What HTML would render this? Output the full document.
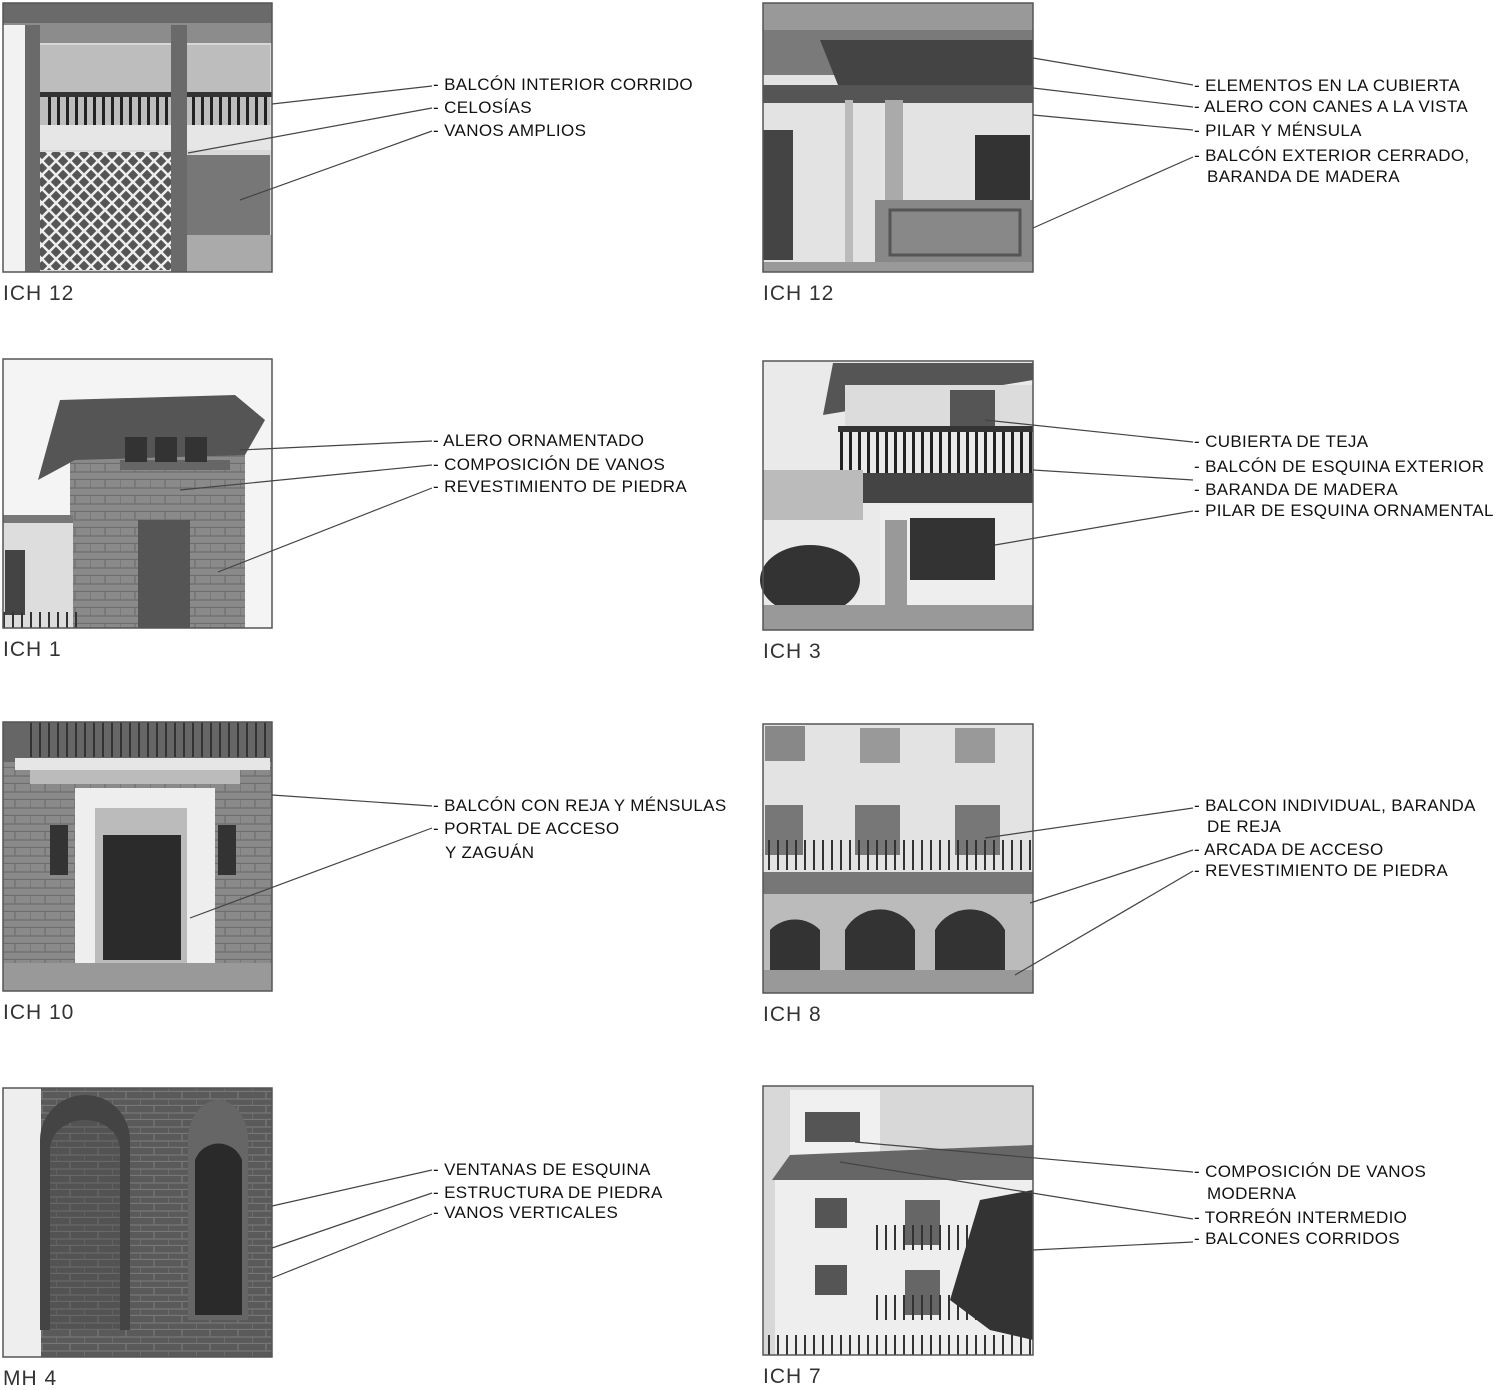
<!DOCTYPE html>
<html><head><meta charset="utf-8"><style>
html,body{margin:0;padding:0;background:#fff;}
svg{display:block}
text{font-family:"Liberation Sans",sans-serif;fill:#222;}
.l{font-size:17px;letter-spacing:0.35px;fill:#111}
.c{font-size:21px;fill:#333;letter-spacing:1px}
.ln{stroke:#444;stroke-width:1.2;fill:none}
.fr{fill:none;stroke:#555;stroke-width:1.5}
</style></head><body>
<svg width="1500" height="1390" viewBox="0 0 1500 1390" xmlns="http://www.w3.org/2000/svg">
<defs>
<pattern id="lat" width="14" height="14" patternUnits="userSpaceOnUse"><path d="M0 7L7 0L14 7L7 14Z" fill="none" stroke="#eee" stroke-width="2.5"/></pattern>
<pattern id="stone" width="30" height="16" patternUnits="userSpaceOnUse"><rect width="30" height="16" fill="#8a8a8a"/><path d="M0 15.5H30M15 0V8M0 8H30M0 0V8" stroke="#6e6e6e" stroke-width="1.2"/></pattern>
<pattern id="brick" width="28" height="14" patternUnits="userSpaceOnUse"><rect width="28" height="14" fill="#5a5a5a"/><path d="M0 13.5H28M14 0V7M0 7H28M0 7V14" stroke="#777" stroke-width="1.2"/></pattern>
<pattern id="bal" width="9" height="20" patternUnits="userSpaceOnUse"><rect width="9" height="20" fill="none"/><rect x="3" y="0" width="3" height="20" fill="#222"/></pattern>
<pattern id="bal2" width="9" height="20" patternUnits="userSpaceOnUse"><rect x="3" y="0" width="2" height="20" fill="#333"/></pattern>
</defs>

<g>
<rect x="3" y="3" width="269" height="269" fill="#d8d8d8"/>
<rect x="3" y="3" width="269" height="20" fill="#6a6a6a"/>
<rect x="3" y="23" width="269" height="20" fill="#8c8c8c"/>
<rect x="40" y="45" width="230" height="80" fill="#bdbdbd"/>
<rect x="45" y="95" width="225" height="30" fill="url(#bal)"/>
<rect x="40" y="92" width="232" height="5" fill="#333"/>
<rect x="40" y="125" width="232" height="25" fill="#e6e6e6"/>
<rect x="38" y="152" width="135" height="118" fill="#555"/>
<rect x="38" y="152" width="135" height="118" fill="url(#lat)"/>
<rect x="180" y="155" width="90" height="80" fill="#777"/>
<rect x="180" y="235" width="92" height="37" fill="#aaa"/>
<rect x="25" y="25" width="15" height="247" fill="#6a6a6a"/>
<rect x="171" y="25" width="16" height="247" fill="#6a6a6a"/>
<rect x="3" y="25" width="22" height="247" fill="#f2f2f2"/>
<rect x="3" y="3" width="269" height="269" class="fr"/>
</g>
<text class="c" x="3" y="300">ICH  12</text>
<line class="ln" x1="272" y1="104" x2="432" y2="86"/>
<line class="ln" x1="188" y1="153" x2="432" y2="108"/>
<line class="ln" x1="240" y1="200" x2="432" y2="131"/>
<text class="l" x="433" y="90">- BALCÓN INTERIOR CORRIDO</text>
<text class="l" x="433" y="113">- CELOSÍAS</text>
<text class="l" x="433" y="136">- VANOS AMPLIOS</text>

<g>
<rect x="763" y="3" width="270" height="269" fill="#e3e3e3"/>
<rect x="763" y="3" width="270" height="40" fill="#999"/>
<polygon points="763,30 1033,30 1033,75 763,75" fill="#7a7a7a"/>
<polygon points="820,40 1033,40 1033,90 840,90" fill="#444"/>
<rect x="763" y="85" width="270" height="18" fill="#555"/>
<rect x="885" y="100" width="18" height="170" fill="#aaa"/>
<rect x="845" y="100" width="8" height="172" fill="#bbb"/>
<rect x="975" y="135" width="55" height="70" fill="#333"/>
<rect x="875" y="200" width="158" height="62" fill="#888"/>
<rect x="890" y="210" width="130" height="45" fill="none" stroke="#555" stroke-width="3"/>
<rect x="763" y="130" width="30" height="130" fill="#444"/>
<rect x="763" y="262" width="270" height="10" fill="#999"/>
<rect x="763" y="3" width="270" height="269" class="fr"/>
</g>
<text class="c" x="763" y="300">ICH  12</text>
<line class="ln" x1="1033" y1="58" x2="1193" y2="85"/>
<line class="ln" x1="1033" y1="88" x2="1193" y2="107"/>
<line class="ln" x1="1033" y1="115" x2="1193" y2="130"/>
<line class="ln" x1="1033" y1="228" x2="1193" y2="157"/>
<text class="l" x="1194" y="91">- ELEMENTOS EN LA CUBIERTA</text>
<text class="l" x="1194" y="112">- ALERO CON CANES A LA VISTA</text>
<text class="l" x="1194" y="136">- PILAR Y MÉNSULA</text>
<text class="l" x="1194" y="161">- BALCÓN EXTERIOR CERRADO,</text>
<text class="l" x="1207" y="182">BARANDA DE MADERA</text>

<g>
<rect x="3" y="359" width="269" height="269" fill="#f4f4f4"/>
<rect x="70" y="415" width="175" height="213" fill="url(#stone)"/>
<polygon points="38,480 60,400 235,395 265,420 245,455 75,460" fill="#555"/>
<rect x="120" y="460" width="110" height="10" fill="#666"/>
<rect x="125" y="437" width="22" height="25" fill="#333"/>
<rect x="155" y="437" width="22" height="25" fill="#333"/>
<rect x="185" y="437" width="22" height="25" fill="#333"/>
<rect x="138" y="520" width="52" height="108" fill="#555"/>
<rect x="3" y="515" width="70" height="113" fill="#ddd"/>
<rect x="3" y="515" width="70" height="8" fill="#777"/>
<rect x="5" y="550" width="20" height="65" fill="#444"/>
<rect x="3" y="612" width="75" height="16" fill="url(#bal2)"/>
<rect x="3" y="359" width="269" height="269" class="fr"/>
</g>
<text class="c" x="3" y="656">ICH  1</text>
<line class="ln" x1="240" y1="450" x2="432" y2="441"/>
<line class="ln" x1="180" y1="490" x2="432" y2="465"/>
<line class="ln" x1="218" y1="572" x2="432" y2="488"/>
<text class="l" x="433" y="446">- ALERO ORNAMENTADO</text>
<text class="l" x="433" y="470">- COMPOSICIÓN DE VANOS</text>
<text class="l" x="433" y="492">- REVESTIMIENTO DE PIEDRA</text>

<g>
<rect x="763" y="361" width="270" height="269" fill="#eaeaea"/>
<polygon points="823,415 833,363 1033,363 1033,380" fill="#555"/>
<rect x="845" y="385" width="188" height="45" fill="#dcdcdc"/>
<rect x="950" y="390" width="45" height="40" fill="#555"/>
<rect x="838" y="428" width="195" height="45" fill="url(#bal)"/>
<rect x="838" y="426" width="195" height="6" fill="#333"/>
<rect x="838" y="473" width="195" height="30" fill="#444"/>
<rect x="763" y="470" width="100" height="50" fill="#bbb"/>
<rect x="880" y="505" width="153" height="105" fill="#eee"/>
<rect x="910" y="518" width="85" height="62" fill="#333"/>
<rect x="885" y="520" width="22" height="92" fill="#999"/>
<ellipse cx="810" cy="580" rx="50" ry="35" fill="#333"/>
<rect x="763" y="605" width="270" height="25" fill="#999"/>
<rect x="763" y="361" width="270" height="269" class="fr"/>
</g>
<text class="c" x="763" y="658">ICH  3</text>
<line class="ln" x1="985" y1="420" x2="1193" y2="442"/>
<line class="ln" x1="1033" y1="470" x2="1193" y2="480"/>
<line class="ln" x1="995" y1="545" x2="1193" y2="511"/>
<text class="l" x="1194" y="447">- CUBIERTA DE TEJA</text>
<text class="l" x="1194" y="472">- BALCÓN DE ESQUINA EXTERIOR</text>
<text class="l" x="1194" y="495">- BARANDA DE MADERA</text>
<text class="l" x="1194" y="516">- PILAR DE ESQUINA ORNAMENTAL</text>

<g>
<rect x="3" y="722" width="269" height="269" fill="url(#stone)"/>
<rect x="3" y="722" width="269" height="40" fill="#666"/>
<rect x="30" y="722" width="240" height="35" fill="url(#bal2)"/>
<rect x="15" y="758" width="255" height="12" fill="#e6e6e6"/>
<rect x="30" y="770" width="210" height="14" fill="#bbb"/>
<rect x="75" y="788" width="140" height="175" fill="#eee"/>
<rect x="95" y="808" width="92" height="155" fill="#bbb"/>
<rect x="103" y="835" width="78" height="125" fill="#2b2b2b"/>
<rect x="50" y="825" width="18" height="50" fill="#333"/>
<rect x="218" y="825" width="18" height="50" fill="#333"/>
<rect x="3" y="963" width="269" height="28" fill="#999"/>
<rect x="3" y="722" width="269" height="269" class="fr"/>
</g>
<text class="c" x="3" y="1019">ICH  10</text>
<line class="ln" x1="272" y1="795" x2="432" y2="806"/>
<line class="ln" x1="190" y1="918" x2="432" y2="828"/>
<text class="l" x="433" y="811">- BALCÓN CON REJA Y MÉNSULAS</text>
<text class="l" x="433" y="834">- PORTAL DE ACCESO</text>
<text class="l" x="445" y="858">Y ZAGUÁN</text>

<g>
<rect x="763" y="724" width="270" height="269" fill="#e3e3e3"/>
<rect x="765" y="726" width="40" height="35" fill="#888"/>
<rect x="860" y="728" width="40" height="35" fill="#999"/>
<rect x="955" y="728" width="40" height="35" fill="#999"/>
<rect x="765" y="805" width="38" height="50" fill="#777"/>
<rect x="855" y="805" width="45" height="50" fill="#777"/>
<rect x="955" y="805" width="45" height="50" fill="#777"/>
<rect x="763" y="840" width="270" height="30" fill="url(#bal2)"/>
<rect x="763" y="872" width="270" height="22" fill="#777"/>
<rect x="763" y="894" width="270" height="80" fill="#bbb"/>
<path d="M770 970V930A35 35 0 0 1 820 930V970Z M845 970V930A40 40 0 0 1 915 930V970Z M935 970V930A40 40 0 0 1 1005 930V970Z" fill="#333"/>
<rect x="763" y="970" width="270" height="23" fill="#999"/>
<rect x="763" y="724" width="270" height="269" class="fr"/>
</g>
<text class="c" x="763" y="1021">ICH  8</text>
<line class="ln" x1="985" y1="838" x2="1193" y2="808"/>
<line class="ln" x1="1030" y1="903" x2="1193" y2="850"/>
<line class="ln" x1="1015" y1="975" x2="1193" y2="871"/>
<text class="l" x="1194" y="811">- BALCON INDIVIDUAL, BARANDA</text>
<text class="l" x="1207" y="832">DE REJA</text>
<text class="l" x="1194" y="855">- ARCADA DE ACCESO</text>
<text class="l" x="1194" y="876">- REVESTIMIENTO DE PIEDRA</text>

<g>
<rect x="3" y="1088" width="269" height="269" fill="url(#brick)"/>
<rect x="3" y="1088" width="38" height="269" fill="#eee"/>
<path d="M40 1330V1140A45 45 0 0 1 130 1140V1330Z" fill="#444"/>
<path d="M50 1330V1150A35 30 0 0 1 120 1150V1330Z" fill="url(#brick)" opacity="0.7"/>
<path d="M188 1320V1140A30 40 0 0 1 248 1140V1320Z" fill="#666"/>
<path d="M195 1315V1160A25 25 0 0 1 242 1160V1315Z" fill="#2a2a2a"/>
<rect x="3" y="1088" width="269" height="269" class="fr"/>
</g>
<text class="c" x="3" y="1385">MH  4</text>
<line class="ln" x1="272" y1="1206" x2="432" y2="1170"/>
<line class="ln" x1="272" y1="1248" x2="432" y2="1193"/>
<line class="ln" x1="272" y1="1278" x2="432" y2="1214"/>
<text class="l" x="433" y="1175">- VENTANAS DE ESQUINA</text>
<text class="l" x="433" y="1198">- ESTRUCTURA DE PIEDRA</text>
<text class="l" x="433" y="1218">- VANOS VERTICALES</text>

<g>
<rect x="763" y="1086" width="270" height="269" fill="#d8d8d8"/>
<rect x="790" y="1090" width="90" height="75" fill="#f0f0f0"/>
<rect x="805" y="1112" width="55" height="30" fill="#555"/>
<polygon points="772,1180 790,1155 1033,1145 1033,1185" fill="#666"/>
<rect x="775" y="1180" width="258" height="175" fill="#eeeeee"/>
<rect x="815" y="1198" width="32" height="30" fill="#555"/>
<rect x="815" y="1265" width="32" height="30" fill="#555"/>
<rect x="905" y="1200" width="35" height="45" fill="#666"/>
<rect x="905" y="1270" width="35" height="45" fill="#666"/>
<rect x="875" y="1225" width="120" height="25" fill="url(#bal2)"/>
<rect x="875" y="1295" width="120" height="25" fill="url(#bal2)"/>
<polygon points="950,1300 980,1200 1033,1190 1033,1340 990,1330" fill="#333"/>
<rect x="763" y="1335" width="270" height="20" fill="url(#bal2)"/>
<rect x="763" y="1086" width="270" height="269" class="fr"/>
</g>
<text class="c" x="763" y="1383">ICH  7</text>
<line class="ln" x1="855" y1="1142" x2="1193" y2="1172"/>
<line class="ln" x1="840" y1="1162" x2="1193" y2="1219"/>
<line class="ln" x1="1033" y1="1250" x2="1193" y2="1242"/>
<text class="l" x="1194" y="1177">- COMPOSICIÓN DE VANOS</text>
<text class="l" x="1207" y="1199">MODERNA</text>
<text class="l" x="1194" y="1223">- TORREÓN INTERMEDIO</text>
<text class="l" x="1194" y="1244">- BALCONES CORRIDOS</text>
</svg>
</body></html>
